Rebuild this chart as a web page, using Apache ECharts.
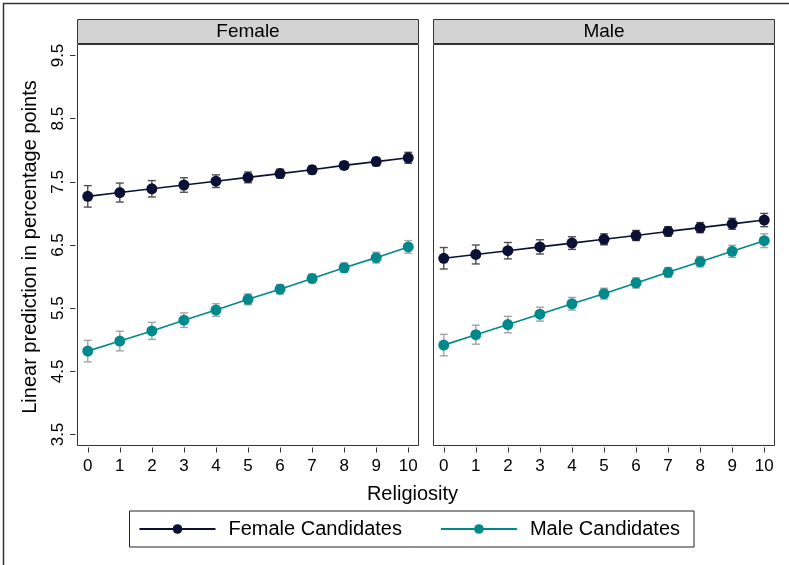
<!DOCTYPE html>
<html><head><meta charset="utf-8">
<script src="https://cdn.jsdelivr.net/npm/echarts@6/dist/echarts.min.js"></script>
<style>html,body{margin:0;padding:0;background:#fff}#c{width:789px;height:565px}</style>
</head><body><div id="c"></div>
<script>
// ---- data ----
const religiosity = [0, 1, 2, 3, 4, 5, 6, 7, 8, 9, 10];
const xTicks = [0, 1, 2, 3, 4, 5, 6, 7, 8, 9, 10];
const yTicks = [3.5, 4.5, 5.5, 6.5, 7.5, 8.5, 9.5];
const panelNames = ['Female', 'Male'];
const seriesNames = ['Female Candidates', 'Male Candidates'];

// Panel "Female"
const femalePanel_femaleCand = [7.27, 7.33, 7.39, 7.45, 7.51, 7.57, 7.63, 7.69, 7.76, 7.82, 7.88];
const femalePanel_femaleCand_ci = [0.17, 0.15, 0.13, 0.115, 0.10, 0.085, 0.07, 0.062, 0.06, 0.066, 0.087];
const femalePanel_maleCand = [4.82, 4.98, 5.14, 5.31, 5.47, 5.64, 5.80, 5.97, 6.14, 6.30, 6.47];
const femalePanel_maleCand_ci = [0.17, 0.155, 0.135, 0.115, 0.10, 0.085, 0.075, 0.068, 0.074, 0.085, 0.10];
// Panel "Male"
const malePanel_femaleCand = [6.29, 6.35, 6.41, 6.47, 6.53, 6.59, 6.65, 6.715, 6.775, 6.835, 6.895];
const malePanel_femaleCand_ci = [0.17, 0.15, 0.13, 0.113, 0.10, 0.087, 0.08, 0.076, 0.08, 0.087, 0.105];
const malePanel_maleCand = [4.915, 5.08, 5.24, 5.405, 5.57, 5.73, 5.90, 6.067, 6.236, 6.40, 6.568];
const malePanel_maleCand_ci = [0.17, 0.15, 0.13, 0.11, 0.10, 0.085, 0.08, 0.076, 0.082, 0.095, 0.108];

// ---- styling ----
const FONT = '"Liberation Sans", Arial, sans-serif';
const NAVY = '#0b1134';
const TEAL = '#00898d';
const ERR_NAVY = '#505050';
const ERR_TEAL = '#a3a3a3';

const panelData = [
  {means: [femalePanel_femaleCand, femalePanel_maleCand], ci: [femalePanel_femaleCand_ci, femalePanel_maleCand_ci]},
  {means: [malePanel_femaleCand, malePanel_maleCand], ci: [malePanel_femaleCand_ci, malePanel_maleCand_ci]}
];

const gridLefts = [77.5, 433.5];
const grids = gridLefts.map(l => ({left: l, top: 44.5, width: 341, height: 401, show: true,
  borderColor: '#333', borderWidth: 1, backgroundColor: '#fff', containLabel: false}));

const xAxes = [0, 1].map(i => ({
  type: 'value', gridIndex: i, min: -0.32, max: 10.32, offset: 2,
  axisLine: {show: false, onZero: false},
  axisTick: {show: true, length: 5, lineStyle: {color: '#333', width: 1}, customValues: xTicks},
  axisLabel: {show: true, margin: 10, fontSize: 17, fontFamily: FONT, color: '#000', customValues: xTicks, formatter: v => String(v)},
  splitLine: {show: false}
}));
const yAxes = [0, 1].map(i => ({
  type: 'value', gridIndex: i, min: 3.326, max: 9.674, offset: 2,
  axisLine: {show: false, onZero: false},
  axisTick: {show: i === 0, length: 5.5, lineStyle: {color: '#333', width: 1}, customValues: yTicks},
  axisLabel: {show: i === 0, rotate: 90, margin: 9, fontSize: 17, fontFamily: FONT, color: '#000', customValues: yTicks, formatter: v => v.toFixed(1)},
  splitLine: {show: false}
}));

function errRender(color) {
  return function (params, api) {
    const x = api.value(0), lo = api.value(1), hi = api.value(2);
    const pH = api.coord([x, hi]), pL = api.coord([x, lo]);
    const cw = 4;
    const st = {stroke: color, lineWidth: 1.4};
    return {type: 'group', children: [
      {type: 'line', shape: {x1: pH[0], y1: pH[1], x2: pL[0], y2: pL[1]}, style: st},
      {type: 'line', shape: {x1: pH[0] - cw, y1: pH[1], x2: pH[0] + cw, y2: pH[1]}, style: st},
      {type: 'line', shape: {x1: pL[0] - cw, y1: pL[1], x2: pL[0] + cw, y2: pL[1]}, style: st}
    ]};
  };
}

const series = [];
[0, 1].forEach(p => {
  const cols = [NAVY, TEAL], ecols = [ERR_NAVY, ERR_TEAL];
  [0, 1].forEach(s => {
    const m = panelData[p].means[s], c = panelData[p].ci[s];
    series.push({
      type: 'custom', name: 'ci' + p + s, xAxisIndex: p, yAxisIndex: p, z: 2,
      renderItem: errRender(ecols[s]), silent: true,
      encode: {x: 0, y: [1, 2]},
      data: religiosity.map((x, k) => [x, m[k] - c[k], m[k] + c[k]])
    });
    series.push({
      type: 'line', name: seriesNames[s], xAxisIndex: p, yAxisIndex: p, z: 3,
      symbol: 'circle', symbolSize: 11, showSymbol: true, animation: false,
      lineStyle: {color: cols[s], width: 1.6}, itemStyle: {color: cols[s]},
      data: religiosity.map((x, k) => [x, m[k]])
    });
  });
});

const graphic = [
  {type: 'polyline', shape: {points: [[3.5, 570], [3.5, 3.5], [795, 3.5]]}, style: {stroke: '#333', lineWidth: 1.5, fill: null}},
  {type: 'text', x: 30, y: 247, rotation: Math.PI / 2, style: {text: 'Linear prediction in percentage points', font: '20px ' + FONT, fill: '#000', align: 'center', verticalAlign: 'middle'}},
  {type: 'text', x: 412.5, y: 494, style: {text: 'Religiosity', font: '20px ' + FONT, fill: '#000', align: 'center', verticalAlign: 'middle'}}
];
gridLefts.forEach((l, i) => {
  graphic.push({type: 'rect', shape: {x: l, y: 19.5, width: 341, height: 24}, style: {fill: '#d3d3d3', stroke: '#333', lineWidth: 1}});
  graphic.push({type: 'text', x: l + 170.5, y: 32, style: {text: panelNames[i], font: '19px ' + FONT, fill: '#000', align: 'center', verticalAlign: 'middle'}});
});

const chart = echarts.init(document.getElementById('c'), null, {renderer: 'canvas'});
chart.setOption({
  animation: false,
  backgroundColor: '#fff',
  grid: grids,
  xAxis: xAxes,
  yAxis: yAxes,
  legend: {
    data: seriesNames, left: 129.5, top: 511, orient: 'horizontal',
    itemWidth: 76, itemHeight: 12, itemGap: 38,
    padding: [8, 14, 8, 9], borderColor: '#222', borderWidth: 1,
    textStyle: {fontSize: 20, fontFamily: FONT, color: '#000', padding: [0, 0, 0, 8]},
    selectedMode: false
  },
  graphic: graphic,
  series: series
});
</script>
</body></html>
